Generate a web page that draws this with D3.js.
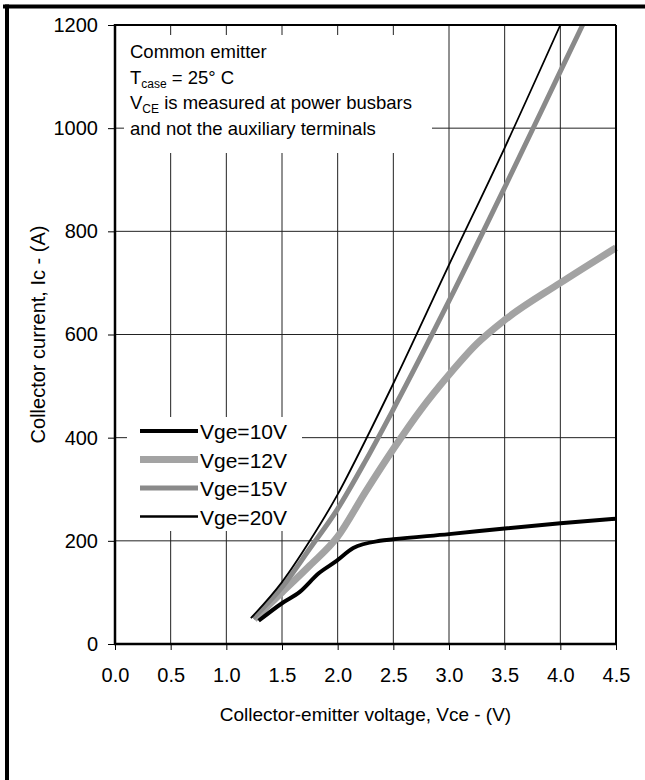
<!DOCTYPE html>
<html>
<head>
<meta charset="utf-8">
<script src="https://cdn.jsdelivr.net/npm/d3@7"></script>
<style>
  body { margin: 0; background: #fff; }
  svg { display: block; font-family: "Liberation Sans", Arial, sans-serif; }
</style>
</head>
<body>
<svg width="645" height="780"></svg>
<script>
// output characteristic
var xTicks = [0.0, 0.5, 1.0, 1.5, 2.0, 2.5, 3.0, 3.5, 4.0, 4.5];
var yTicks = [0, 200, 400, 600, 800, 1000, 1200];

var vge10 = [[1.29,45],[1.5,79],[1.66,101],[1.83,137],[1.99,161],[2.14,186],[2.38,200],[2.5,203],[3.0,213],[3.5,224],[4.0,234],[4.5,243]];
var vge12 = [[1.25,48],[1.5,100],[1.75,152],[2.0,208],[2.25,295],[2.5,378],[2.75,455],[3.0,522],[3.25,582],[3.5,628],[4.0,700],[4.5,768]];
var vge15 = [[1.24,50],[1.5,110],[1.75,185],[2.0,262],[2.25,355],[2.5,455],[3.0,665],[3.5,885],[4.0,1110],[4.2,1200]];
var vge20 = [[1.22,50],[1.5,120],[1.75,200],[2.0,290],[2.25,395],[2.5,505],[3.0,735],[3.5,962],[4.0,1200]];

var seriesNames = ["Vge=10V", "Vge=12V", "Vge=15V", "Vge=20V"];
var noteLines = ["Common emitter", "T|case| = 25° C", "V|CE| is measured at power busbars", "and not the auxiliary terminals"];

var svg = d3.select("svg"),
    margin = {top: 25, right: 29, bottom: 136, left: 115},
    width = +svg.attr("width") - margin.left - margin.right,
    height = +svg.attr("height") - margin.top - margin.bottom;

// page frame (top and left only, like the scan)
svg.append("line").attr("x1", 3).attr("x2", 645).attr("y1", 6.5).attr("y2", 6.5)
    .attr("stroke", "#000").attr("stroke-width", 4);
svg.append("line").attr("x1", 7).attr("x2", 7).attr("y1", 4.5).attr("y2", 780)
    .attr("stroke", "#000").attr("stroke-width", 4);

var g = svg.append("g")
    .attr("transform", "translate(" + margin.left + "," + margin.top + ")");

var x = d3.scaleLinear().domain([0, 4.5]).range([0, width]),
    y = d3.scaleLinear().domain([0, 1200]).range([height, 0]);

// grid
g.append("g").selectAll("line").data(xTicks.slice(1, -1)).enter().append("line")
    .attr("x1", function(d) { return x(d); }).attr("x2", function(d) { return x(d); })
    .attr("y1", 0).attr("y2", height)
    .attr("stroke", "#222").attr("stroke-width", 1);
g.append("g").selectAll("line").data(yTicks.slice(1, -1)).enter().append("line")
    .attr("x1", 0).attr("x2", width)
    .attr("y1", function(d) { return y(d); }).attr("y2", function(d) { return y(d); })
    .attr("stroke", "#222").attr("stroke-width", 1);

// axes
var xAxis = g.append("g")
    .attr("transform", "translate(0," + height + ")")
    .call(d3.axisBottom(x).tickValues(xTicks).tickFormat(d3.format(".1f")).tickSize(6).tickSizeOuter(0));
var yAxis = g.append("g")
    .call(d3.axisLeft(y).tickValues(yTicks).tickFormat(d3.format("d")).tickSize(7).tickSizeOuter(0));
[xAxis, yAxis].forEach(function(a) {
  a.select(".domain").remove();
  a.selectAll(".tick line").attr("stroke", "#000").attr("stroke-width", 1);
  a.selectAll(".tick text").attr("font-size", 20).attr("fill", "#000")
    .attr("font-family", "Liberation Sans, Arial, sans-serif");
});
xAxis.selectAll(".tick text").attr("dy", "0.71em").attr("y", 24);
yAxis.selectAll(".tick text").attr("x", -17);

// note box
var note = g.append("g");
note.append("rect").attr("x", 9).attr("y", 10).attr("width", 308).attr("height", 118).attr("fill", "#fff");
noteLines.forEach(function(s, i) {
  var parts = s.split("|");
  var t = note.append("text").attr("x", 15).attr("y", 33 + i * 25.5)
      .attr("font-size", 18.5).attr("fill", "#000");
  t.append("tspan").text(parts[0]);
  if (parts.length > 1) {
    t.append("tspan").attr("font-size", 12).attr("dy", 4).text(parts[1]);
    t.append("tspan").attr("dy", -4).text(parts[2]);
  }
});

// curves
var line = d3.line()
    .x(function(d) { return x(d[0]); })
    .y(function(d) { return y(d[1]); })
    .curve(d3.curveMonotoneX);

var styles = [
  {data: vge10, color: "#000", w: 4},
  {data: vge12, color: "#a3a3a3", w: 7},
  {data: vge15, color: "#8a8a8a", w: 5},
  {data: vge20, color: "#000", w: 1.8}
];
[1, 2, 0, 3].forEach(function(i) {
  g.append("path").datum(styles[i].data)
    .attr("fill", "none")
    .attr("stroke", styles[i].color)
    .attr("stroke-width", styles[i].w)
    .attr("stroke-linejoin", "round")
    .attr("d", line);
});

// plot frame
g.append("line").attr("x1", 0).attr("x2", 0).attr("y1", -1).attr("y2", height + 1)
    .attr("stroke", "#000").attr("stroke-width", 2.5);
g.append("line").attr("x1", -1).attr("x2", width + 1).attr("y1", height).attr("y2", height)
    .attr("stroke", "#000").attr("stroke-width", 2.5);
g.append("line").attr("x1", 0).attr("x2", width).attr("y1", 0).attr("y2", 0)
    .attr("stroke", "#000").attr("stroke-width", 1.8);
g.append("line").attr("x1", width).attr("x2", width).attr("y1", 0).attr("y2", height)
    .attr("stroke", "#000").attr("stroke-width", 2);

// legend
var legend = g.append("g");
legend.append("rect").attr("x", 12).attr("y", 392).attr("width", 175).attr("height", 114).attr("fill", "#fff");
seriesNames.forEach(function(name, i) {
  var ly = 406 + i * 28.5;
  legend.append("line").attr("x1", 25).attr("x2", 83).attr("y1", ly).attr("y2", ly)
    .attr("stroke", styles[i].color).attr("stroke-width", styles[i].w + (i == 3 ? 0.7 : 0));
  legend.append("text").attr("x", 85).attr("y", ly + 8)
    .attr("font-size", 21).attr("fill", "#000").text(name);
});

// axis titles
g.append("text")
    .attr("x", width / 2).attr("y", height + 77)
    .attr("text-anchor", "middle").attr("font-size", 19)
    .text("Collector-emitter voltage, Vce - (V)");
g.append("text")
    .attr("transform", "translate(-70," + (height / 2) + ") rotate(-90)")
    .attr("text-anchor", "middle").attr("font-size", 20)
    .text("Collector current, Ic - (A)");
</script>
</body>
</html>
